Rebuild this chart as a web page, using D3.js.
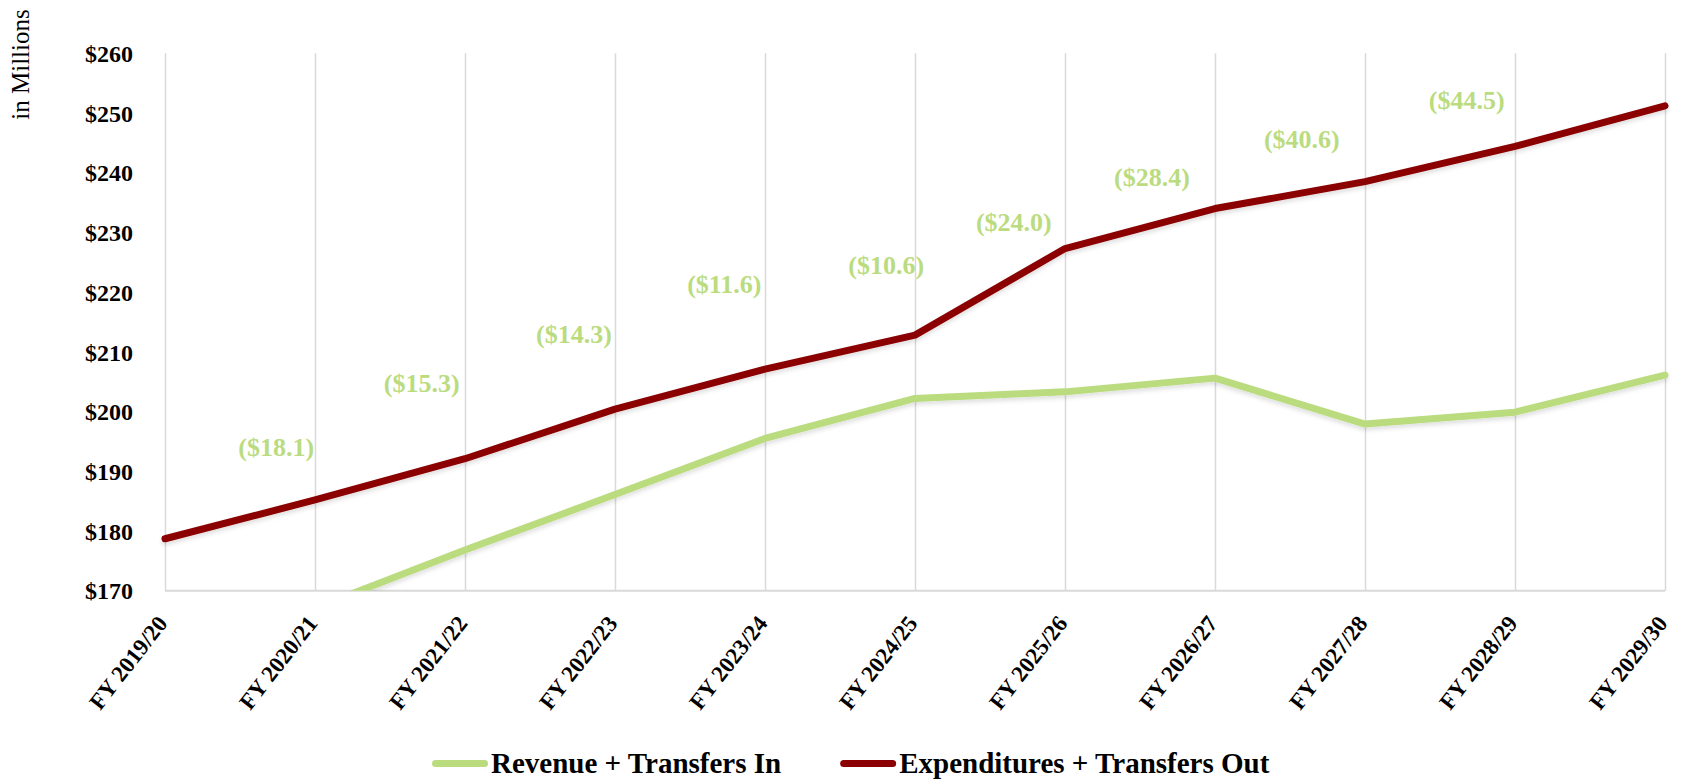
<!DOCTYPE html>
<html>
<head>
<meta charset="utf-8">
<script src="https://cdn.jsdelivr.net/npm/d3@7"></script>
<style>
  html, body { margin: 0; padding: 0; background: #ffffff; }
  svg { display: block; }
  text { font-family: "Liberation Serif", "Times New Roman", serif; }
</style>
</head>
<body>
<svg id="chart" width="1687" height="781"></svg>
<script>
// ---- data ----
const categories = ["FY 2019/20","FY 2020/21","FY 2021/22","FY 2022/23","FY 2023/24","FY 2024/25",
                    "FY 2025/26","FY 2026/27","FY 2027/28","FY 2028/29","FY 2029/30"];
const revenue      = [160.0, 167.1, 176.8, 186.1, 195.5, 202.2, 203.3, 205.6, 197.9, 199.9, 206.1];
const expenditures = [178.7, 185.2, 192.1, 200.4, 207.1, 212.8, 227.3, 234.0, 238.5, 244.4, 251.2];
const gapValues    = [18.1, 15.3, 14.3, 11.6, 10.6, 24.0, 28.4, 40.6, 44.5];
// label anchors in data space (category index, $ millions)
const gapLabelIndex = [0.741, 1.711, 2.726, 3.729, 4.808, 5.659, 6.58, 7.579, 8.678];
const gapLabelValue = [194.0, 204.8, 213.0, 221.3, 224.5, 231.8, 239.3, 245.6, 252.2];
const yTicks = [170, 180, 190, 200, 210, 220, 230, 240, 250, 260];
const seriesNames = ["Revenue + Transfers In", "Expenditures + Transfers Out"];
const seriesColors = ["#BADC7F", "#8B0000"];

// ---- layout ----
const W = 1687, H = 781;
const plot = { left: 165, right: 1665, top: 53.3, bottom: 590.7 };

const svg = d3.select("#chart");

const x = d3.scaleLinear().domain([0, categories.length - 1]).range([plot.left, plot.right]);
const y = d3.scaleLinear().domain([170, 260]).range([plot.bottom, plot.top]);

// defs: clip + shadow
const defs = svg.append("defs");
defs.append("clipPath").attr("id", "plotClip")
  .append("rect")
  .attr("x", plot.left - 10).attr("y", plot.top - 10)
  .attr("width", plot.right - plot.left + 20).attr("height", plot.bottom - plot.top + 10);
const f = defs.append("filter").attr("id", "shadow").attr("x", "-5%").attr("y", "-20%").attr("width", "110%").attr("height", "140%");
f.append("feDropShadow").attr("dx", 0).attr("dy", 3).attr("stdDeviation", 2)
  .attr("flood-color", "#000").attr("flood-opacity", 0.12);

// vertical gridlines
const xAxisGrid = d3.axisBottom(x)
  .tickValues(d3.range(categories.length))
  .tickSize(-(plot.bottom - plot.top))
  .tickFormat("");
const gGrid = svg.append("g").attr("transform", `translate(0,${plot.bottom})`).call(xAxisGrid);
gGrid.select(".domain").remove();
gGrid.selectAll(".tick line").attr("stroke", "#D9D9D9").attr("stroke-width", 1.5);

// bottom axis line
svg.append("line")
  .attr("x1", plot.left).attr("x2", plot.right)
  .attr("y1", plot.bottom).attr("y2", plot.bottom)
  .attr("stroke", "#D9D9D9").attr("stroke-width", 2);

// y axis labels
const yAxis = d3.axisLeft(y).tickValues(yTicks).tickSize(0).tickPadding(32)
  .tickFormat(d => "$" + d);
const gY = svg.append("g").attr("transform", `translate(${plot.left},0)`).call(yAxis);
gY.select(".domain").remove();
gY.selectAll(".tick text")
  .attr("font-family", "Liberation Serif, serif")
  .attr("font-size", 24).attr("font-weight", "bold").attr("fill", "#000")
  .attr("dy", "0.34em");

// x axis labels (rotated)
const xAxis = d3.axisBottom(x).tickValues(d3.range(categories.length)).tickSize(0)
  .tickFormat(i => categories[i]);
const gX = svg.append("g").attr("transform", `translate(0,${plot.bottom})`).call(xAxis);
gX.select(".domain").remove();
gX.selectAll(".tick text")
  .attr("font-family", "Liberation Serif, serif")
  .attr("font-size", 23).attr("font-weight", "bold").attr("fill", "#000")
  .attr("text-anchor", "end")
  .attr("y", 0).attr("dy", 0)
  .attr("transform", "translate(3,33) rotate(-52)");

// y-axis title
svg.append("text")
  .attr("transform", "translate(29,64.5) rotate(-90)")
  .attr("text-anchor", "middle")
  .attr("font-size", 25).attr("fill", "#000")
  .text("in Millions");

// lines
const lineGen = d3.line().x((d, i) => x(i)).y(d => y(d));
const gLines = svg.append("g").attr("clip-path", "url(#plotClip)");
[revenue, expenditures].forEach((s, k) => {
  gLines.append("path")
    .datum(s)
    .attr("d", lineGen)
    .attr("fill", "none")
    .attr("stroke", seriesColors[k])
    .attr("stroke-width", 7)
    .attr("stroke-linejoin", "round")
    .attr("stroke-linecap", "round")
    .attr("filter", "url(#shadow)");
});
// clip bottom strictly for revenue line (below axis)
svg.select("#plotClip rect").attr("height", plot.bottom - plot.top + 10);

// gap labels
svg.append("g").selectAll("text")
  .data(gapValues)
  .join("text")
  .attr("x", (d, i) => x(gapLabelIndex[i]))
  .attr("y", (d, i) => y(gapLabelValue[i]))
  .attr("dy", "0.35em")
  .attr("text-anchor", "middle")
  .attr("font-size", 26).attr("font-weight", "bold")
  .attr("fill", seriesColors[0])
  .text(d => "($" + d.toFixed(1) + ")");

// legend
const legendY = 763.5;
const gLeg = svg.append("g");
let lx = 432;
seriesNames.forEach((name, k) => {
  gLeg.append("line")
    .attr("x1", lx + 3.5).attr("x2", lx + 52.5)
    .attr("y1", legendY).attr("y2", legendY)
    .attr("stroke", seriesColors[k]).attr("stroke-width", 7)
    .attr("stroke-linecap", "round");
  const t = gLeg.append("text")
    .attr("x", lx + 59).attr("y", legendY + 9.5)
    .attr("font-size", 29).attr("font-weight", "bold").attr("fill", "#000")
    .text(name);
  lx = lx + 59 + t.node().getComputedTextLength() + 59;
});
</script>
</body>
</html>
